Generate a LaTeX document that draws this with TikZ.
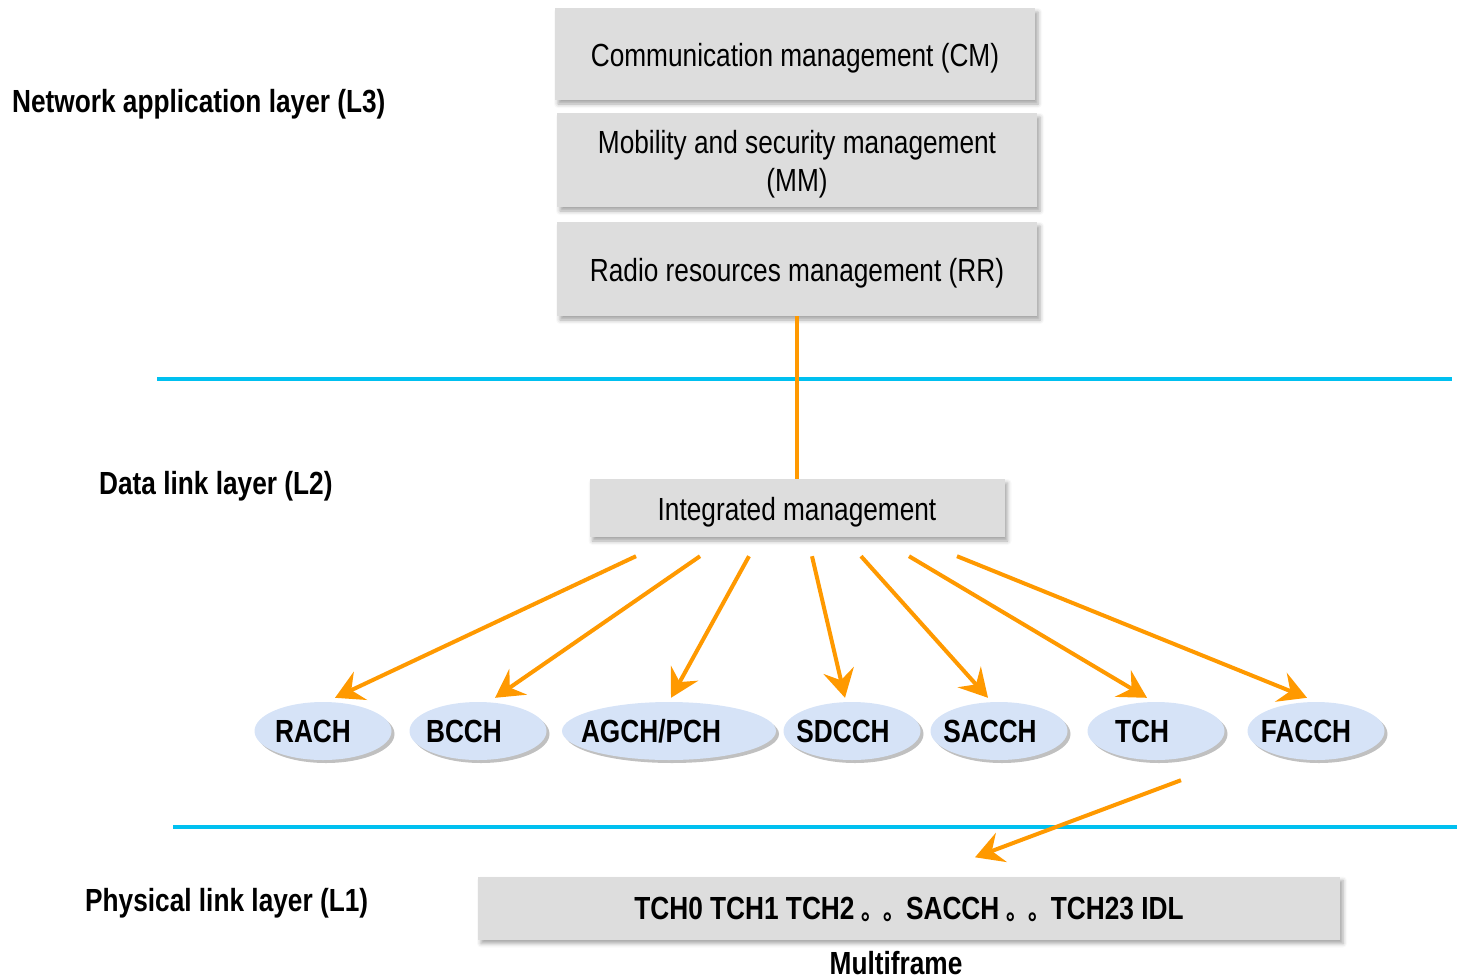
\documentclass[tikz,border=0pt]{standalone}
\usepackage{fontspec}
\setmainfont{Liberation Sans}[FakeStretch=0.82]
\newfontfamily\cjk{Noto Sans CJK SC}[FakeStretch=0.82]
\usetikzlibrary{shadows,shadows.blur,arrows.meta,shapes.geometric}
\definecolor{boxgray}{RGB}{221,221,221}
\definecolor{chanblue}{RGB}{214,227,247}
\definecolor{lineblue}{RGB}{0,192,240}
\definecolor{oarr}{RGB}{255,153,0}
\begin{document}
\begin{tikzpicture}[x=1pt,y=-1pt,
  mgmtbase/.style={rectangle, fill=boxgray, inner sep=0pt, align=center,
    font=\fontsize{32}{38}\selectfont,
    blur shadow={shadow xshift=3pt, shadow yshift=-4pt, shadow blur radius=4pt, shadow opacity=35}},
  mgmt/.style={mgmtbase, text height=30pt, text depth=6pt},
  chan/.style={ellipse, fill=chanblue, inner sep=0pt, minimum width=137pt, minimum height=58pt,
    drop shadow={shadow xshift=3pt, shadow yshift=-3pt, opacity=0.45, fill=black!55}},
  chantext/.style={inner sep=0pt, font=\bfseries\fontsize{32}{38}\selectfont},
  layerlabel/.style={anchor=west, inner sep=0pt, font=\bfseries\fontsize{32}{38}\selectfont,
    text height=30pt, text depth=6pt},
  sep/.style={draw=lineblue, line width=4pt},
  oline/.style={draw=oarr, line width=4pt},
  oarrow/.style={draw=oarr, line width=4pt, -{Stealth[length=28pt, width=31pt, inset=10pt]}},
]
\useasboundingbox (0,0) rectangle (1457,980);

% layer labels
\node[layerlabel] (l3) at (12,100) {Network application layer (L3)};
\node[layerlabel] (l2) at (99,482) {Data link layer (L2)};
\node[layerlabel] (l1) at (85,899) {Physical link layer (L1)};

% separators
\coordinate (b1a) at (157,379);
\coordinate (b1b) at (1452,379);
\coordinate (b2a) at (173,827);
\coordinate (b2b) at (1457,827);
\draw[sep] (b1a) -- (b1b);
\draw[sep] (b2a) -- (b2b);

% L3 boxes
\node[mgmt, minimum width=480pt, minimum height=92pt] (cm) at (795,54) {Communication management (CM)};
\node[mgmtbase, minimum width=480pt, minimum height=94pt] (mm) at (797,160) {\rule{0pt}{31pt}Mobility and security management\\(MM)};
\node[mgmt, minimum width=480pt, minimum height=94pt] (rr) at (797,269) {Radio resources management (RR)};

% L2 box
\node[mgmt, minimum width=415pt, minimum height=58pt] (im) at (797,508) {Integrated management};
\draw[oline] (rr.south) -- (im.north);

% channels
\node[chan] (rach) at (323,731) {};
\node[chan] (bcch) at (478,731) {};
\node[chan, minimum width=214pt] (agch) at (669,731) {};
\node[chan] (sdcch) at (852,731) {};
\node[chan] (sacch) at (999,731) {};
\node[chan] (tch) at (1156,731) {};
\node[chan] (facch) at (1316,731) {};
\node[chantext] (trach) at ([xshift=-10pt]rach.center) {RACH};
\node[chantext] (tbcch) at ([xshift=-14pt]bcch.center) {BCCH};
\node[chantext] (tagch) at ([xshift=-18pt]agch.center) {AGCH/PCH};
\node[chantext] (tsdcch) at ([xshift=-9pt]sdcch.center) {SDCCH};
\node[chantext] (tsacch) at ([xshift=-9pt]sacch.center) {SACCH};
\node[chantext] (ttch) at ([xshift=-14pt]tch.center) {TCH};
\node[chantext] (tfacch) at ([xshift=-10pt]facch.center) {FACCH};

% arrows from integrated management
\draw[oarrow] ([xshift=-161pt,yshift=-19pt]im.south) -- ([xshift=12pt,yshift=4pt]rach.north);
\draw[oarrow] ([xshift=-97pt,yshift=-19pt]im.south) -- ([xshift=17pt,yshift=4pt]bcch.north);
\draw[oarrow] ([xshift=-48pt,yshift=-19pt]im.south) -- ([xshift=2pt,yshift=4pt]agch.north);
\draw[oarrow] ([xshift=15pt,yshift=-19pt]im.south) -- ([xshift=-7pt,yshift=4pt]sdcch.north);
\draw[oarrow] ([xshift=64pt,yshift=-19pt]im.south) -- ([xshift=-11pt,yshift=4pt]sacch.north);
\draw[oarrow] ([xshift=112pt,yshift=-19pt]im.south) -- ([xshift=-9pt,yshift=4pt]tch.north);
\draw[oarrow] ([xshift=160pt,yshift=-19pt]im.south) -- ([xshift=-9pt,yshift=4pt]facch.north);

% L1 multiframe
\node[mgmt, minimum width=862pt, minimum height=63pt, font=\bfseries\fontsize{32}{38}\selectfont,
  text height=28pt] (mf) at (909,908)
  {TCH0 TCH1 TCH2 {\cjk\fontsize{27}{30}\selectfont 。。}SACCH {\cjk\fontsize{27}{30}\selectfont 。。}TCH23 IDL};
\node[chantext] (mflabel) at (896,963) {Multiframe};
\draw[oarrow] ([xshift=25pt,yshift=-20pt]tch.south) -- ([xshift=66pt,yshift=19pt]mf.north);
\end{tikzpicture}
\end{document}
